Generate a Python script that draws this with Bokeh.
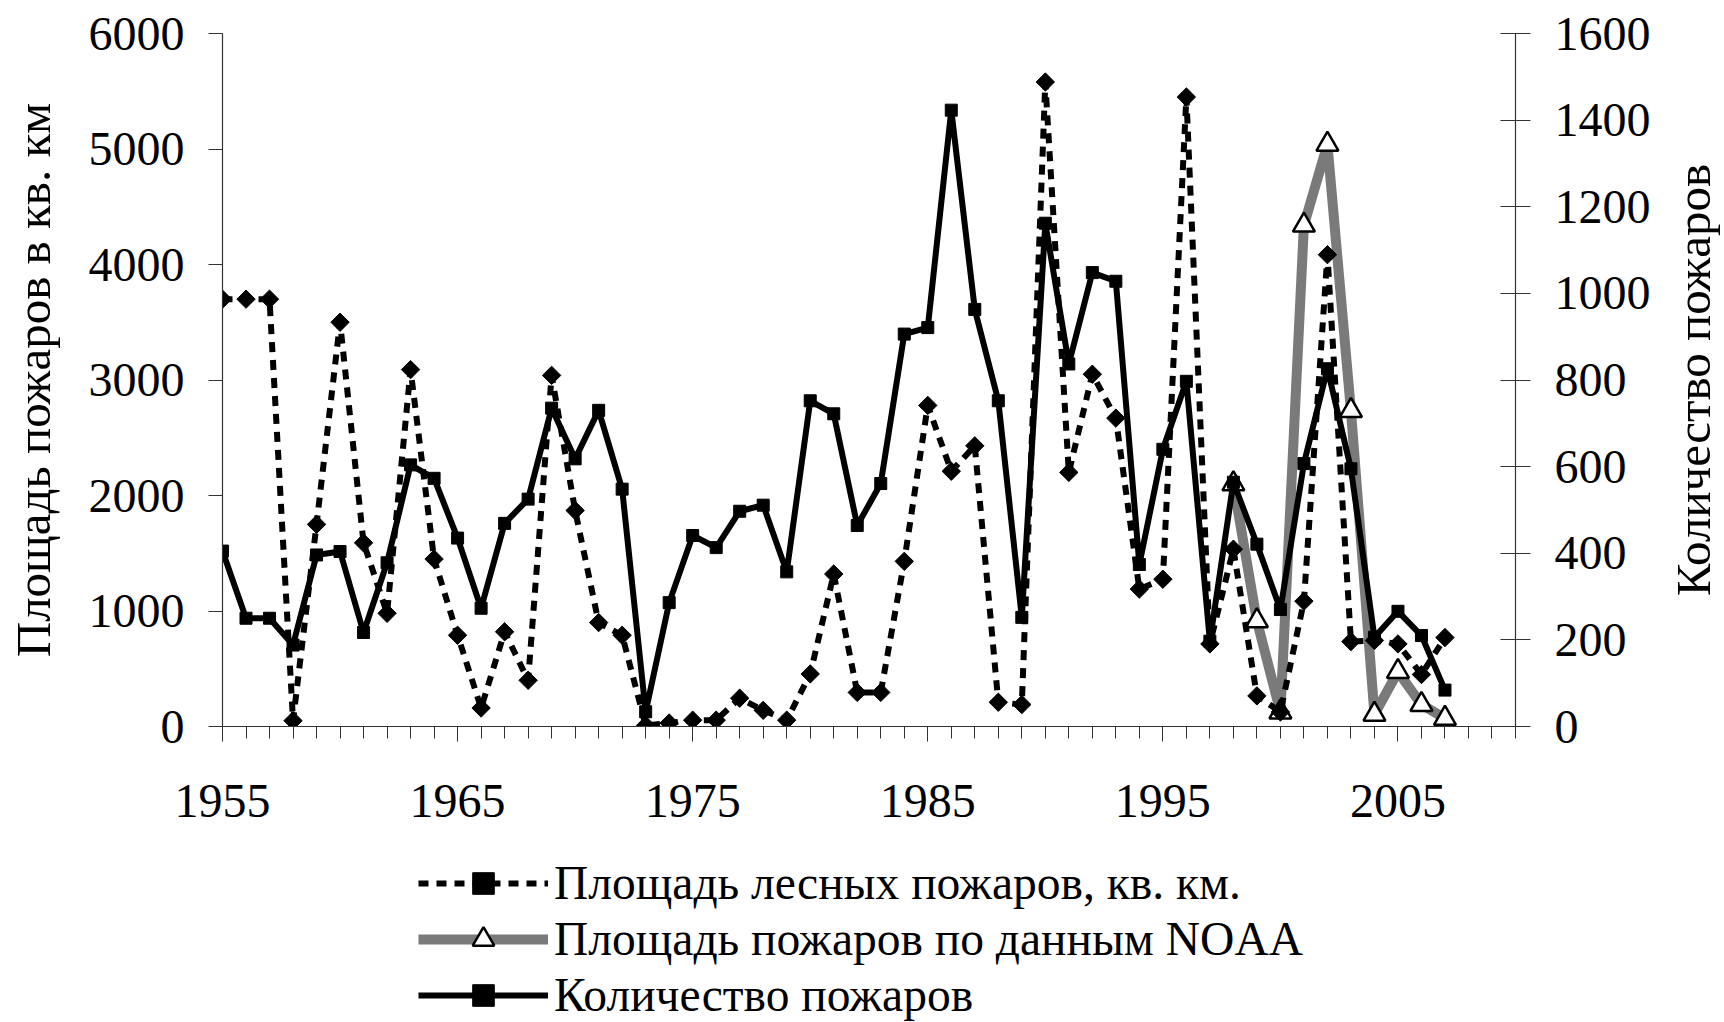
import numpy as np
from bokeh.plotting import figure
from bokeh.layouts import column, row
from bokeh.models import Range1d, LinearAxis, FixedTicker, Legend, LegendItem
from bokeh.embed import file_html
from bokeh.resources import INLINE

# ---- data ----
years = list(range(1955, 2008))
area = [3700, 3700, 3700, 50, 1750, 3500, 1590, 980, 3090, 1450,
        790, 160, 820, 400, 3040, 1870, 900, 790, 10, 30,
        55, 55, 245, 140, 55, 455, 1320, 295, 295, 1430,
        2780, 2210, 2430, 210, 190, 5580, 2200, 3050, 2670, 1190,
        1275, 5450, 715, 1535, 265, 126, 1085, 4085, 735, 745,
        715, 450, 770]
count = [405, 250, 250, 188, 396, 404, 217, 378, 604, 573,
         435, 273, 469, 525, 735, 618, 730, 548, 34, 286,
         441, 413, 497, 511, 357, 752, 722, 464, 561, 906,
         921, 1423, 963, 752, 252, 1162, 837, 1048, 1028, 374,
         640, 797, 197, 564, 421, 270, 607, 826, 595, 206,
         266, 210, 84]
noaa_years = list(range(1998, 2008))
noaa = [2100, 915, 125, 4340, 5040, 2735, 105, 475, 190, 70]

x_major = [1955, 1965, 1975, 1985, 1995, 2005]
x_minor = list(range(1955, 2011))
left_ticks = [0, 1000, 2000, 3000, 4000, 5000, 6000]
right_ticks = [0, 200, 400, 600, 800, 1000, 1200, 1400, 1600]

label_area = "Площадь лесных пожаров, кв. км."
label_noaa = "Площадь пожаров по данным NOAA"
label_count = "Количество пожаров"
title_left = "Площадь пожаров в кв. км"
title_right = "Количество пожаров"

FONT = "Liberation Serif"

# styles shared by plot and legend
NOAA_LINE = dict(line_color="#7a7a7a", line_width=10)
NOAA_PTS = dict(marker="triangle", size=22, fill_color="white", line_color="black", line_width=2.5)
AREA_LINE = dict(line_color="black", line_width=6, line_dash="10 8")
AREA_PTS = dict(marker="square", angle=np.pi / 4, size=13, fill_color="black", line_color="black")
CNT_LINE = dict(line_color="black", line_width=6)
CNT_PTS = dict(marker="square", size=12, fill_color="black", line_color="black")

p = figure(width=1660, height=838, output_backend="svg", toolbar_location=None,
           x_range=Range1d(1955, 2010), y_range=Range1d(0, 6000),
           min_border_left=222, min_border_right=145, min_border_top=33,
           min_border_bottom=112)
p.extra_y_ranges = {"right": Range1d(0, 1600)}
p.grid.visible = False
p.outline_line_color = None
p.background_fill_color = "white"

p.line(noaa_years, noaa, **NOAA_LINE)
p.scatter(noaa_years, noaa, **NOAA_PTS)
p.line(years, area, **AREA_LINE)
p.scatter(years, area, **AREA_PTS)
p.line(years, count, y_range_name="right", **CNT_LINE)
p.scatter(years, count, y_range_name="right", **CNT_PTS)

def style_axis(ax):
    ax.axis_line_color = "#333333"
    ax.axis_line_width = 1.2
    ax.major_tick_line_color = "#333333"
    ax.minor_tick_line_color = "#333333"
    ax.major_label_text_font = FONT
    ax.major_label_text_font_size = "48px"
    ax.major_label_text_color = "black"
    ax.axis_label_text_font = FONT
    ax.axis_label_text_font_size = "49px"
    ax.axis_label_text_font_style = "normal"
    ax.axis_label_text_color = "black"

xa = p.xaxis[0]
style_axis(xa)
xa.ticker = FixedTicker(ticks=x_major, minor_ticks=x_minor)
xa.major_tick_out = 15
xa.major_tick_in = 0
xa.minor_tick_out = 12
xa.minor_tick_in = 0
xa.major_label_standoff = 43

ya = p.yaxis[0]
style_axis(ya)
ya.ticker = FixedTicker(ticks=left_ticks)
ya.major_tick_out = 14
ya.major_tick_in = 0
ya.minor_tick_out = 0
ya.minor_tick_in = 0
ya.major_label_standoff = 24
ya.axis_label = title_left
ya.axis_label_standoff = 25

ra = LinearAxis(y_range_name="right", ticker=FixedTicker(ticks=right_ticks))
style_axis(ra)
ra.major_tick_out = 15
ra.major_tick_in = 15
ra.minor_tick_out = 0
ra.minor_tick_in = 0
ra.major_label_standoff = 24
p.add_layout(ra, "right")

# ---- right-hand title (reads bottom-to-top), as a bare left-axis label ----
r = figure(width=64, height=838, output_backend="svg", toolbar_location=None,
           x_range=Range1d(0, 1), y_range=Range1d(0, 1), x_axis_type=None,
           min_border_left=60, min_border_right=0, min_border_top=33,
           min_border_bottom=112)
r.outline_line_color = None
r.grid.visible = False
rya = r.yaxis[0]
style_axis(rya)
rya.ticker = FixedTicker(ticks=[])
rya.axis_line_color = None
rya.major_tick_out = 0
rya.major_tick_in = 0
rya.minor_tick_out = 0
rya.minor_tick_in = 0
rya.major_label_standoff = 0
rya.axis_label = title_right
rya.axis_label_standoff = 0

# ---- legend figure below the chart (its series lie outside its view) ----
q = figure(width=1660, height=184, output_backend="svg", toolbar_location=None,
           x_range=Range1d(0, 1), y_range=Range1d(0, 1),
           x_axis_type=None, y_axis_type=None,
           min_border_left=0, min_border_right=0, min_border_top=0, min_border_bottom=0)
q.outline_line_color = None
q.grid.visible = False
la = q.line(years, area, **AREA_LINE)
lap = q.scatter(years, area, **AREA_PTS)
ln = q.line(noaa_years, noaa, **NOAA_LINE)
lnp = q.scatter(noaa_years, noaa, **NOAA_PTS)
lc = q.line(years, count, **CNT_LINE)
lcp = q.scatter(years, count, **CNT_PTS)

legend = Legend(items=[
    LegendItem(label=label_area, renderers=[la, lap]),
    LegendItem(label=label_noaa, renderers=[ln, lnp]),
    LegendItem(label=label_count, renderers=[lc, lcp]),
], location=(196, 0))
legend.label_text_font = FONT
legend.label_text_font_size = "47.5px"
legend.label_text_color = "black"
legend.glyph_width = 130
legend.glyph_height = 54
legend.label_height = 54
legend.spacing = 2
legend.padding = 0
legend.margin = 0
legend.label_standoff = 6
legend.border_line_alpha = 0
legend.background_fill_alpha = 0
q.add_layout(legend)

open("out.html", "w").write(file_html(row(column(p, q), r), INLINE))
